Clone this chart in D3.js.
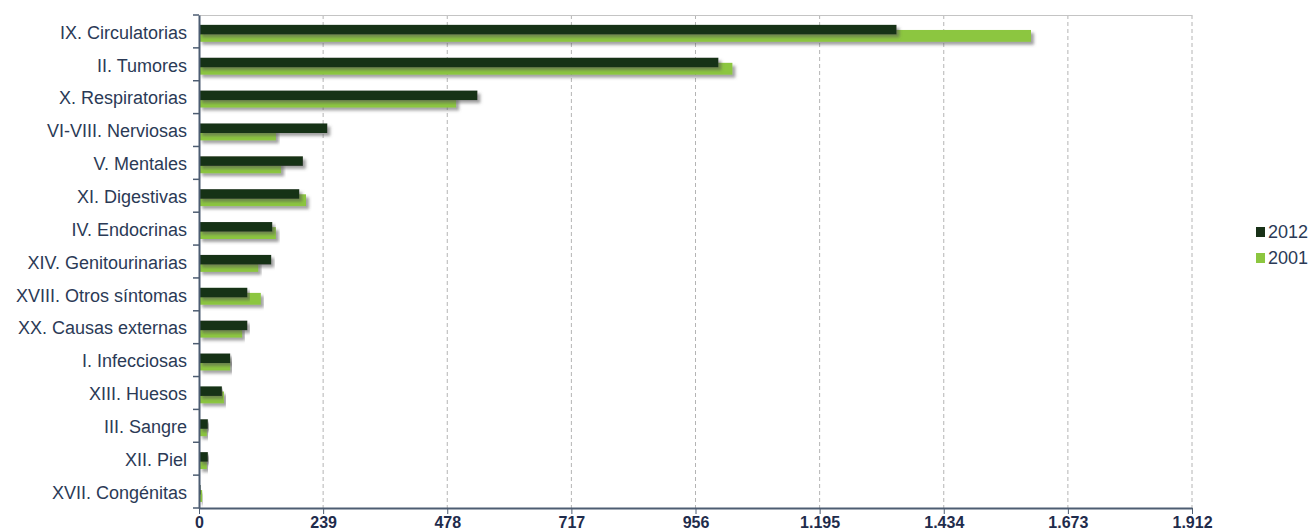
<!DOCTYPE html>
<html>
<head>
<meta charset="utf-8">
<script src="https://cdn.jsdelivr.net/npm/d3@7"></script>
<style>
  body { margin: 0; background: #fff; }
  svg { display: block; }
</style>
</head>
<body>
<div id="chart"></div>
<script>
var width = 1309;
var height = 532;

// data
var categories = ["IX. Circulatorias", "II. Tumores", "X. Respiratorias", "VI-VIII. Nerviosas",
  "V. Mentales", "XI. Digestivas", "IV. Endocrinas", "XIV. Genitourinarias",
  "XVIII. Otros síntomas", "XX. Causas externas", "I. Infecciosas", "XIII. Huesos",
  "III. Sangre", "XII. Piel", "XVII. Congénitas"];
var values2012 = [1343, 1000, 536, 247, 200, 193, 141, 139, 93, 93, 60, 44, 17, 17, 3];
var values2001 = [1602, 1027, 495, 148, 158, 206, 148, 114, 119, 83, 60, 48, 15, 15, 6];
var tickValues = [0, 239, 478, 717, 956, 1195, 1434, 1673, 1912];
var seriesNames = ["2012", "2001"];
var seriesColors = ["#183117", "#8cc63f"];

var margin = {top: 15, right: 117, bottom: 24, left: 199};
var font = "Liberation Sans, Arial, sans-serif";

var svg = d3.select("#chart")
  .append("svg")
  .attr("width", width)
  .attr("height", height);

var defs = svg.append("defs");
var shadow = defs.append("filter")
  .attr("id", "shadow")
  .attr("x", "-5%").attr("y", "-50%")
  .attr("width", "110%").attr("height", "250%");
shadow.append("feDropShadow")
  .attr("dx", 3).attr("dy", 3)
  .attr("stdDeviation", 1.6)
  .attr("flood-color", "#555")
  .attr("flood-opacity", 0.55);

var x = d3.scaleLinear()
  .domain([0, 1912])
  .range([margin.left, width - margin.right]);

var y = d3.scaleBand()
  .domain(categories)
  .range([margin.top, height - margin.bottom]);

var g = svg.append("g");

// grid
g.selectAll(".grid")
  .data(tickValues.slice(1))
  .enter()
  .append("line")
  .attr("x1", function(d){ return x(d); })
  .attr("x2", function(d){ return x(d); })
  .attr("y1", margin.top)
  .attr("y2", height - margin.bottom)
  .attr("stroke", "#b4b4b4")
  .attr("stroke-dasharray", "4,3");

g.append("line")
  .attr("x1", margin.left).attr("x2", x(1912))
  .attr("y1", margin.top + 0.5).attr("y2", margin.top + 0.5)
  .attr("stroke", "#c4c4c4");

// bars
var bw = y.bandwidth();
var rows = g.selectAll(".row")
  .data(categories)
  .enter()
  .append("g")
  .attr("transform", function(d){ return "translate(0," + y(d) + ")"; });

rows.append("rect")
  .attr("x", x(0))
  .attr("y", bw * 0.455)
  .attr("height", bw * 0.36)
  .attr("width", function(d, i){ return x(values2001[i]) - x(0); })
  .attr("fill", seriesColors[1])
  .attr("filter", "url(#shadow)");

rows.append("rect")
  .attr("x", x(0))
  .attr("y", bw * 0.3)
  .attr("height", bw * 0.29)
  .attr("width", function(d, i){ return x(values2012[i]) - x(0); })
  .attr("fill", seriesColors[0])
  .attr("filter", "url(#shadow)");

// x axis
var fmt = d3.formatLocale({decimal: ",", thousands: ".", grouping: [3], currency: ["", "€"]}).format(",d");

var xAxis = svg.append("g")
  .attr("transform", "translate(0," + (height - margin.bottom) + ")")
  .call(d3.axisBottom(x).tickValues(tickValues).tickFormat(fmt).tickSize(6).tickSizeOuter(0));
xAxis.select(".domain").attr("stroke", "#4d5d72").attr("stroke-width", 2);
xAxis.selectAll(".tick line").attr("stroke", "#4d5d72");
xAxis.selectAll(".tick text")
  .attr("y", 9)
  .attr("dy", "0.71em")
  .attr("fill", "#1f2c4c")
  .attr("font-family", font)
  .attr("font-weight", "bold")
  .attr("font-size", 16);

// y axis
var yAxis = svg.append("g")
  .attr("transform", "translate(" + margin.left + ",0)")
  .call(d3.axisLeft(y).tickSize(0).tickPadding(12));
yAxis.select(".domain").attr("stroke", "#4d5d72").attr("stroke-width", 2);
yAxis.selectAll(".tick text")
  .attr("dy", "0.4em")
  .attr("fill", "#2b3a56")
  .attr("font-family", font)
  .attr("font-size", 18);

yAxis.selectAll(".sep")
  .data(d3.range(categories.length + 1))
  .enter()
  .append("line")
  .attr("x1", -6).attr("x2", 0)
  .attr("y1", function(i){ return margin.top + i * bw; })
  .attr("y2", function(i){ return margin.top + i * bw; })
  .attr("stroke", "#4d5d72")
  .attr("stroke-width", 1.5);

// legend
var legend = svg.append("g")
  .attr("transform", "translate(1256,227)");

var li = legend.selectAll(".item")
  .data(seriesNames)
  .enter()
  .append("g")
  .attr("transform", function(d, i){ return "translate(0," + i * 26 + ")"; });

li.append("rect")
  .attr("width", 9).attr("height", 10)
  .attr("fill", function(d, i){ return seriesColors[i]; });

li.append("text")
  .attr("x", 12).attr("y", 11)
  .attr("fill", "#2b3a56")
  .attr("font-family", font)
  .attr("font-size", 18)
  .text(function(d){ return d; });
</script>
</body>
</html>
